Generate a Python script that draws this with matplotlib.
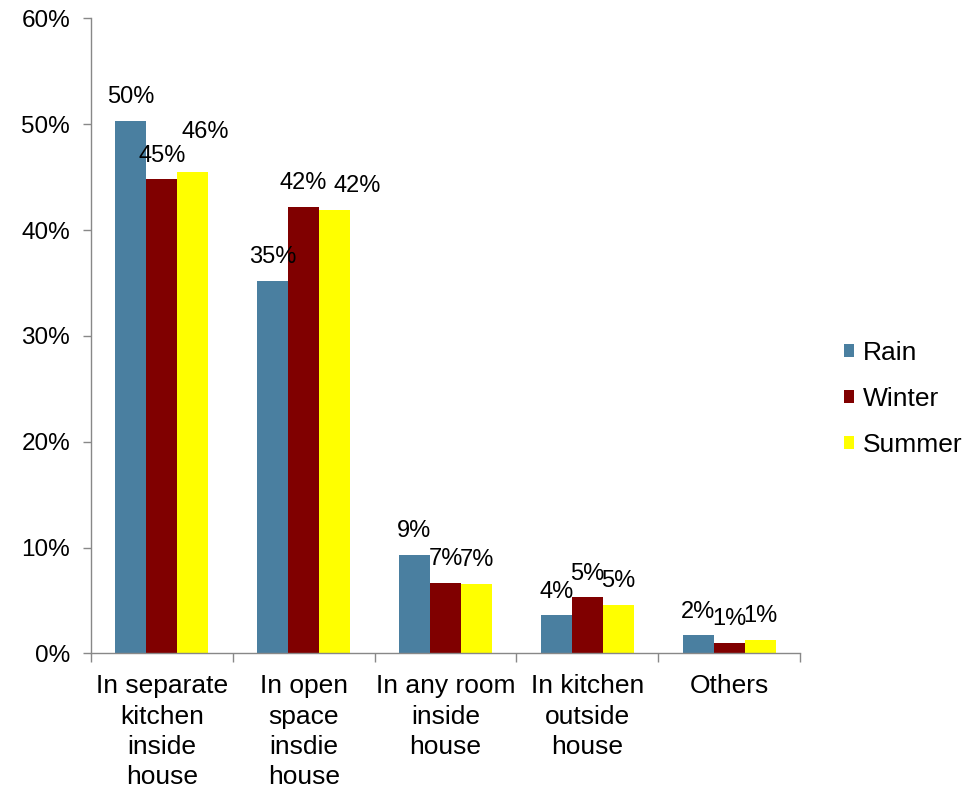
import matplotlib
matplotlib.use("Agg")
import matplotlib.pyplot as plt
import numpy as np
from matplotlib.ticker import FuncFormatter, FixedLocator

plt.rcParams['font.family'] = ['Liberation Sans', 'DejaVu Sans']

categories = ["In separate\nkitchen\ninside\nhouse",
              "In open\nspace\ninsdie\nhouse",
              "In any room\ninside\nhouse",
              "In kitchen\noutside\nhouse",
              "Others"]
series_names = ["Rain", "Winter", "Summer"]
rain = [50.3, 35.2, 9.3, 3.6, 1.7]
winter = [44.8, 42.2, 6.7, 5.3, 1.0]
summer = [45.5, 41.9, 6.6, 4.6, 1.3]
colors = ["#4A7FA0", "#800000", "#FFFF00"]

# extra label nudges (points) for crowded labels: (series, category) -> (dx, dy)
label_nudge = {(2, 0): (9, 12), (2, 1): (16, 0)}

fig = plt.figure(figsize=(9.78, 7.9), dpi=100)
ax = fig.add_axes([0.093, 0.1728, 0.725, 0.804])

x = np.arange(len(categories))
width = 0.219
for i, (name, vals) in enumerate(zip(series_names, [rain, winter, summer])):
    pos = x + (i - 1) * width
    ax.bar(pos, vals, width=width, color=colors[i], label=name, zorder=2)
    for j, (p, v) in enumerate(zip(pos, vals)):
        dx, dy = label_nudge.get((i, j), (0, 0))
        ax.annotate(f"{v:.0f}%", xy=(p, v), xytext=(dx, 17 + dy),
                    textcoords="offset points", ha="center", va="center",
                    fontsize=17, color="black")

ax.set_xlim(-0.5, len(categories) - 0.5)
ax.set_ylim(0, 60)
ax.yaxis.set_major_locator(FixedLocator(np.arange(0, 61, 10)))
ax.yaxis.set_major_formatter(FuncFormatter(lambda v, _: f"{v:.0f}%"))

ax.set_xticks(x)
ax.set_xticklabels(categories, fontsize=19, linespacing=1.33, va="top")
ax.set_xticks(np.arange(-0.5, len(categories), 1.0), minor=True)
ax.tick_params(axis="x", which="major", length=0, pad=15)
ax.tick_params(axis="x", which="minor", length=6.5, color="#888888", width=1, direction="out")
ax.tick_params(axis="y", length=6, color="#888888", width=1, labelsize=17.5, pad=9)

for s in ["top", "right"]:
    ax.spines[s].set_visible(False)
for s in ["left", "bottom"]:
    ax.spines[s].set_color("#888888")
    ax.spines[s].set_linewidth(1)

fig.legend(loc="center left", bbox_to_anchor=(0.852, 0.495), frameon=False,
           fontsize=19, handlelength=0.38, handleheight=0.38, handletextpad=0.35,
           labelspacing=0.82, borderaxespad=0)

fig.savefig("out.png", dpi=100)
